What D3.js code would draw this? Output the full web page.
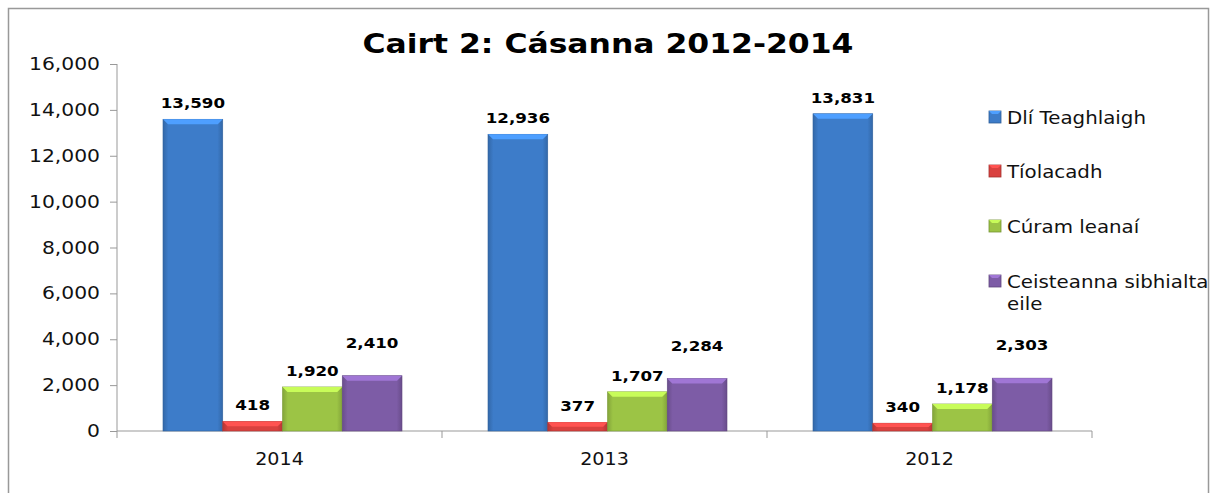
<!DOCTYPE html>
<html lang="ga">
<head>
<meta charset="utf-8">
<script src="https://d3js.org/d3.v7.min.js"></script>
<style>
	body { margin:0; background:#fff; }
	text { font-family: "DejaVu Sans", Verdana, sans-serif; }
</style>
</head>
<body>
<script>
	// data
	var years = ["2014", "2013", "2012"];
	var seriesNames = ["Dlí Teaghlaigh", "Tíolacadh", "Cúram leanaí", "Ceisteanna sibhialta eile"];
	var dliTeaghlaigh = [13590, 12936, 13831];
	var tiolacadh = [418, 377, 340];
	var curamLeanai = [1920, 1707, 1178];
	var ceisteanna = [2410, 2284, 2303];
	var yTicks = [0, 2000, 4000, 6000, 8000, 10000, 12000, 14000, 16000];

	var seriesValues = [dliTeaghlaigh, tiolacadh, curamLeanai, ceisteanna];
	var colors = ["#3d7cc9", "#d9413f", "#9cc445", "#7d5ca6"];
	var labelOffset = [16, 16, 16, 33];

	var W = 1210, H = 493;
	var svg = d3.select("body").append("svg")
		.attr("width", W).attr("height", H);

	// the original font is wider than DejaVu, stretch text a bit
	function stretch(sel, r) {
		sel.each(function() {
			var l = this.getComputedTextLength();
			d3.select(this).attr("textLength", l * r).attr("lengthAdjust", "spacingAndGlyphs");
		});
	}

	// gradients for the bevelled bars
	var defs = svg.append("defs");
	colors.forEach(function(c, i) {
		var g = defs.append("linearGradient").attr("id", "grad" + i)
			.attr("x1", 0).attr("x2", 1).attr("y1", 0).attr("y2", 0);
		g.append("stop").attr("offset", "0%").attr("stop-color", d3.color(c).darker(0.5));
		g.append("stop").attr("offset", "9%").attr("stop-color", c);
		g.append("stop").attr("offset", "91%").attr("stop-color", c);
		g.append("stop").attr("offset", "100%").attr("stop-color", d3.color(c).darker(0.5));
	});

	// chart border
	svg.append("rect")
		.attr("x", 8.5).attr("y", 8.5)
		.attr("width", 1200).attr("height", 500)
		.attr("fill", "none").attr("stroke", "#999").attr("stroke-width", 1.5);

	var x0 = d3.scaleBand().domain(years).range([117, 1092]);
	var x1 = d3.scaleBand().domain(d3.range(4)).range([46, 285]);
	var y = d3.scaleLinear().domain([0, 16000]).range([431, 64]);

	// axes
	var fmt = d3.format(",");
	var yAxis = svg.append("g")
		.attr("transform", "translate(117,0)")
		.call(d3.axisLeft(y).tickValues(yTicks).tickFormat(fmt).tickSize(7).tickPadding(10));
	yAxis.select(".domain").attr("stroke", "#999").attr("d", "M0," + y(16000) + "V" + y(0));
	yAxis.selectAll(".tick line").attr("stroke", "#999");
	yAxis.selectAll(".tick text").attr("font-size", 17.5).attr("fill", "#111")
		.style("font-family", "'DejaVu Sans', Verdana, sans-serif");
	stretch(yAxis.selectAll(".tick text"), 1.16);

	var xAxis = svg.append("g")
		.attr("transform", "translate(0," + y(0) + ")");
	xAxis.append("line").attr("x1", 117).attr("x2", 1092)
		.attr("stroke", "#999").attr("stroke-width", 1);
	xAxis.selectAll("line.tk").data(years.concat(["end"])).enter().append("line")
		.attr("class", "tk")
		.attr("x1", function(d, i) { return 117 + i * x0.bandwidth(); })
		.attr("x2", function(d, i) { return 117 + i * x0.bandwidth(); })
		.attr("y1", 0).attr("y2", 7).attr("stroke", "#999");
	var yearText = xAxis.selectAll("text").data(years).enter().append("text")
		.attr("x", function(d) { return x0(d) + x0.bandwidth() / 2; })
		.attr("y", 34)
		.attr("text-anchor", "middle")
		.attr("font-size", 17.5).attr("fill", "#111")
		.text(function(d) { return d; });
	stretch(yearText, 1.09);

	// bars
	var groups = svg.append("g").selectAll("g").data(years).enter().append("g")
		.attr("transform", function(d) { return "translate(" + x0(d) + ",0)"; });

	groups.each(function(yr, yi) {
		var g = d3.select(this);
		seriesValues.forEach(function(vals, si) {
			var v = vals[yi];
			var bx = x1(si), bw = x1.bandwidth();
			var top = y(v), h = y(0) - y(v);
			g.append("rect")
				.attr("x", bx).attr("y", top)
				.attr("width", bw).attr("height", h)
				.attr("fill", "url(#grad" + si + ")")
				.attr("stroke", d3.color(colors[si]).darker(0.7)).attr("stroke-width", 0.6);
			// bevel top
			var bev = Math.min(5, h / 2);
			g.append("path")
				.attr("d", "M" + bx + "," + top + "L" + (bx + bw) + "," + top +
					"L" + (bx + bw - bev) + "," + (top + bev) + "L" + (bx + bev) + "," + (top + bev) + "Z")
				.attr("fill", d3.color(colors[si]).brighter(0.7));
			var lab = g.append("text")
				.attr("x", bx + bw / 2)
				.attr("y", top - labelOffset[si] + 5)
				.attr("text-anchor", "middle")
				.attr("font-size", 14.5).attr("font-weight", "bold").attr("fill", "#000")
				.text(fmt(v));
			stretch(lab, 1.15);
		});
	});

	// title
	var title = svg.append("text")
		.attr("x", 608).attr("y", 53)
		.attr("text-anchor", "middle")
		.attr("font-size", 27).attr("font-weight", "bold")
		.text("Cairt 2: Cásanna 2012-2014");
	stretch(title, 1.164);

	// legend
	var legendY = [117, 171, 226, 281];
	var leg = svg.append("g").selectAll("g").data(seriesNames).enter().append("g")
		.attr("transform", function(d, i) { return "translate(989," + legendY[i] + ")"; });
	leg.append("rect")
		.attr("x", 0).attr("y", -6).attr("width", 12).attr("height", 12)
		.attr("fill", function(d, i) { return colors[i]; })
		.attr("stroke", function(d, i) { return d3.color(colors[i]).darker(0.8); })
		.attr("stroke-width", 0.8);
	leg.append("path")
		.attr("d", "M0,-6L12,-6L9,-3L3,-3Z")
		.attr("fill", function(d, i) { return d3.color(colors[i]).brighter(0.7); });
	leg.each(function(d) {
		var lines = d === "Ceisteanna sibhialta eile" ? ["Ceisteanna sibhialta", "eile"] : [d];
		var t = d3.select(this).selectAll("text").data(lines).enter().append("text")
			.attr("x", 18).attr("y", function(s, j) { return 7 + j * 22; })
			.attr("font-size", 18).attr("fill", "#111")
			.text(function(s) { return s; });
		stretch(t, 1.1);
	});
</script>
</body>
</html>
